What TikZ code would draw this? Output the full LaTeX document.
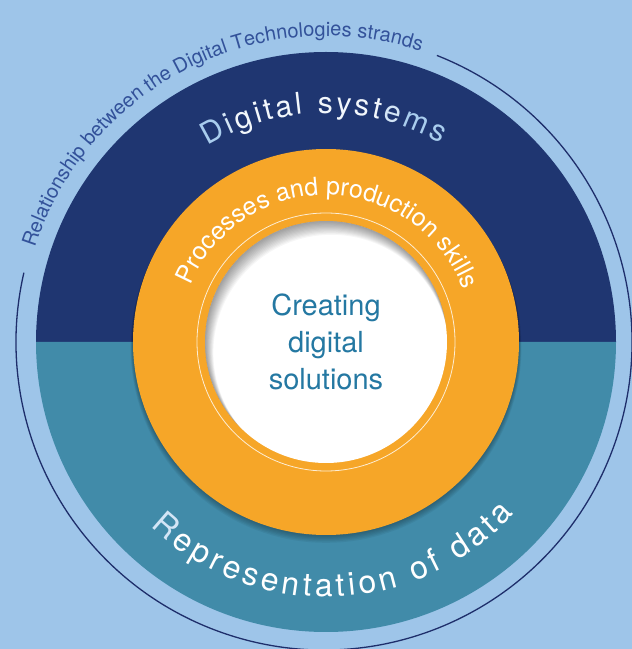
\documentclass[tikz,border=0pt]{standalone}
\usepackage{fontspec}
\setmainfont{TeX Gyre Heros}
\definecolor{bgblue}{HTML}{9EC5E9}
\definecolor{navy}{HTML}{1F3671}
\definecolor{dteal}{HTML}{418BA9}
\definecolor{orng}{HTML}{F6A628}
\definecolor{ctext}{HTML}{2478A2}
\definecolor{rtext}{HTML}{33529A}
\definecolor{dsedge}{HTML}{A9CDEE}
\definecolor{dsmid}{HTML}{D3E5F6}
\definecolor{dstext}{HTML}{F2F7FC}
\definecolor{ringline}{HTML}{1E2E6B}
\newcommand\relfont{\fontsize{20}{20}\selectfont}
\newcommand\dsfont{\fontsize{30}{30}\selectfont}
\newcommand\ppfont{\fontsize{25}{25}\selectfont}
\newcommand\rdfont{\fontsize{32}{32}\selectfont}
\newdimen\arcchw
\newsavebox\arcbox
% #1 name prefix, #2 font, #3 colour, #4 radius, #5 centre angle,
% #6 tracking (pt), #7 direction (1 = over the top, -1 = under the bottom), #8 characters
\newcommand\arcmeasure[2]{%
  \sbox\arcbox{\pgfinterruptpicture#1#2\endpgfinterruptpicture}%
  \arcchw=\wd\arcbox
  \edef\arcwch{\the\arcchw}%
}
\newcommand\arctrack[8]{%
  \gdef\arcW{0}%
  \foreach \ch in {#8}{%
    \arcmeasure{#2}{\ch}%
    \pgfmathsetmacro\arctmp{\arcW+\arcwch+#6}%
    \xdef\arcW{\arctmp}%
  }%
  \pgfmathsetmacro\arctmp{\arcW-#6}\xdef\arcW{\arctmp}%
  \gdef\arcS{0}%
  \foreach \ch [count=\k] in {#8}{%
    \arcmeasure{#2}{\ch}%
    \pgfmathsetmacro\arcang{#5+(#7)*(\arcW/2-\arcS-\arcwch/2)/#4*180/pi}%
    \pgfmathsetmacro\arcrot{\arcang-90*(#7)}%
    \node[font=#2, text=#3, anchor=base, inner sep=0pt, rotate=\arcrot] (#1\k) at ([shift={(\arcang:#4)}]c) {\ch};
    \pgfmathsetmacro\arctmp{\arcS+\arcwch+#6}%
    \xdef\arcS{\arctmp}%
  }%
}
\begin{document}
\begin{tikzpicture}[x=1pt,y=1pt]
\useasboundingbox (0,0) rectangle (632,649);
\fill[bgblue] (0,0) rectangle (632,649);
\coordinate (c) at (326,307);
\coordinate (co) at (324,307);
% outer thin ring with a gap for the title
\draw[ringline, line width=1.3] (co) ++(68.5:308) arc[start angle=68.5, end angle=-193, radius=308];
% big disc
\fill[navy] (c) ++(0:290) arc[start angle=0, end angle=180, radius=290] -- cycle;
\fill[dteal] (c) ++(180:290) arc[start angle=180, end angle=360, radius=290] -- cycle;
% shadow of the orange ring
\foreach \i in {1,...,6}
  \fill[black, opacity=0.05] ([yshift=-\i*0.9pt]c) circle[radius=193+\i*0.4];
% orange ring
\fill[orng] (c) circle[radius=193];
\draw[white!80!orng, line width=0.8] (c) circle[radius=129];
% white centre with inner shadow
\fill[white] (c) circle[radius=121];
\begin{scope}
  \clip (c) circle[radius=121];
  \foreach \i in {1,...,12}
    \fill[black, opacity=0.035, even odd rule] (c) circle[radius=130]
      ([xshift=\i*0.45pt, yshift=-\i*0.9pt]c) circle[radius=121-\i*0.25];
\end{scope}
% texts along arcs
\arctrack{rel}{\relfont}{rtext}{306}{117}{0}{1}{R,e,l,a,t,i,o,n,s,h,i,p,~,b,e,t,w,e,e,n,~,t,h,e,~,D,i,g,i,t,a,l,~,T,e,c,h,n,o,l,o,g,i,e,s,~,s,t,r,a,n,d,s}
\arctrack{ds}{\dsfont}{dstext}{229}{90.5}{3}{1}{{\color{dsedge}D},{\color{dsmid}i},g,i,t,a,l,~,s,y,s,t,{\color{dsmid}e},{\color{dsedge}m},{\color{dsedge}s}}
\arctrack{pp}{\ppfont}{white}{147}{89}{0}{1}{P,r,o,c,e,s,s,e,s,~,a,n,d,~,p,r,o,d,u,c,t,i,o,n,~,s,k,i,l,l,s}
\arctrack{rd}{\rdfont}{white}{255}{272}{3.9}{-1}{{\color{dsmid}R},e,p,r,e,s,e,n,t,a,t,i,o,n,~,o,f,~,d,a,t,a}
% centre text
\node[align=center, text=ctext, font=\fontsize{29}{37}\selectfont, inner sep=0pt] (cds) at (c) {Creating\\digital\\solutions};
\end{tikzpicture}
\end{document}
